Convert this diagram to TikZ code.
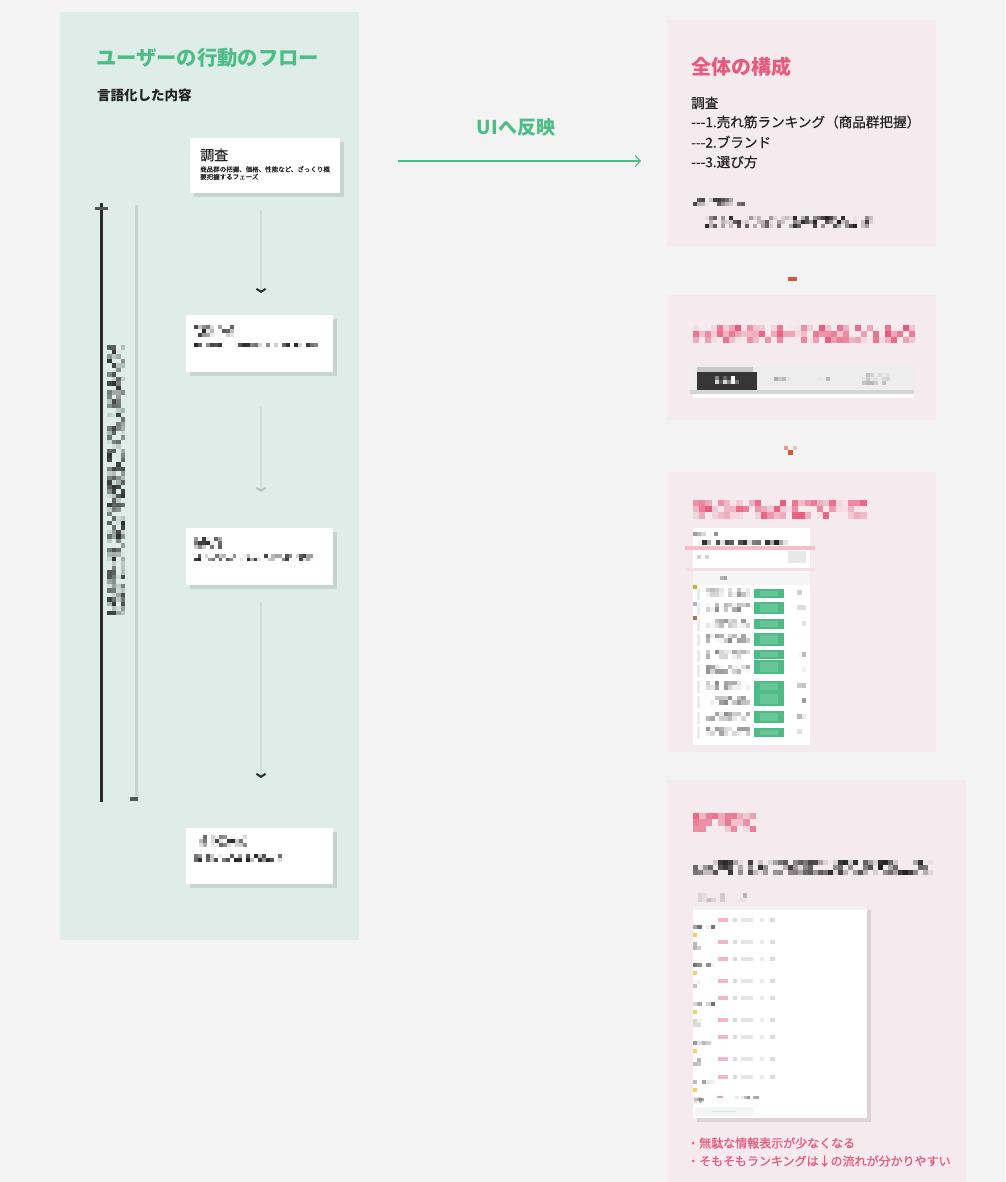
\documentclass[tikz,border=0pt]{standalone}
\usepackage{fontspec}
\setmainfont{Noto Sans CJK JP}
\newfontfamily\jpmed[FakeBold=0.6]{Noto Sans CJK JP}
\usetikzlibrary{arrows.meta,shadows,calc}
\definecolor{bgc}{HTML}{F3F3F3}
\definecolor{greenpanel}{HTML}{DEEDE7}
\definecolor{pinkpanel}{HTML}{F5EAEE}
\definecolor{greentext}{HTML}{4DBD86}
\definecolor{pinktext}{HTML}{E85A7D}
\definecolor{cardshadow}{HTML}{C7D5CF}
\definecolor{flowline}{HTML}{D2DED9}
\definecolor{darkbar}{HTML}{2B2B2B}
\definecolor{darktext}{HTML}{222222}
\definecolor{orangemark}{HTML}{D8573B}
\definecolor{btngreen}{HTML}{4DBB85}
\definecolor{goldsq}{HTML}{D4A93C}
\definecolor{bluesq}{HTML}{A9B8C6}
\definecolor{brownsq}{HTML}{A6775A}
\definecolor{yellowsq}{HTML}{F3D060}
\definecolor{tableshadow}{HTML}{DDD3D7}
\newcommand\fsz[1]{\fontsize{#1pt}{#1pt}\selectfont}
\newcommand\dashes{\mbox{-}\mbox{-}\mbox{-}}
% pixelated (mosaic) block: x, y, cols, rows, cell, colour
\newcommand\mosaic[6]{%
  \foreach \ii in {1,...,#3}{\foreach \jj in {1,...,#4}{%
    \pgfmathsetmacro\oo{max(0,1.4*rnd-0.4)}%
    \fill[#6,opacity=\oo] ({#1+(\ii-1)*#5},{#2+(\jj-1)*#5}) rectangle ++(#5,#5);}}}
\begin{document}
\begin{tikzpicture}[x=1pt,y=-1pt,
  card/.style={fill=white,anchor=north west,inner sep=0,
    drop shadow={shadow xshift=4pt,shadow yshift=-4pt,fill=cardshadow,opacity=1}},
  txt/.style={anchor=west,inner sep=0},
  flow/.style={draw=flowline,line width=1.2pt},
  uiarrow/.style={draw=greentext,line width=1.2pt,-{Straight Barb[length=5pt,width=11pt,line width=1.2pt]}}]
\pgfmathsetseed{7}
\useasboundingbox (0,0) rectangle (1005,1182);
\fill[bgc] (0,0) rectangle (1005,1182);

% ---------- left panel ----------
\fill[greenpanel] (60,12) rectangle (359,940);
\node[txt,text=greentext,font=\fsz{20.3}\bfseries] (ltitle) at (96,58) {ユーザーの行動のフロー};
\node[txt,text=darktext,font=\fsz{13.5}\bfseries] (lsub) at (97,95) {言語化した内容};

\node[card,minimum width=150pt,minimum height=55pt] (b1) at (190,138) {};
\node[card,minimum width=147pt,minimum height=57pt] (b2) at (186,315) {};
\node[card,minimum width=147pt,minimum height=57pt] (b3) at (186,528) {};
\node[card,minimum width=147pt,minimum height=56pt] (b4) at (186,828) {};

\node[txt,text=darktext,font=\fsz{14}\jpmed] (b1t) at (200,155) {調査};
\node[txt,text=darktext,font=\fsz{6.5}\jpmed,align=left] (b1s) at (200,173)
  {商品群の把握、価格、性能など、ざっくり概\\[1pt]要把握するフェーズ};

\mosaic{194}{325}{10}{3}{4}{darktext}
\mosaic{194}{343}{31}{1}{4}{darktext}
\mosaic{194}{537}{7}{3}{4}{darktext}
\mosaic{194}{554}{34}{2}{3.5}{darktext}
\mosaic{199}{835}{12}{3}{4}{darktext}
\mosaic{194}{854}{22}{2}{4}{darktext}

\coordinate (axis) at (261,0);
\draw[flow,shorten <=17pt,shorten >=22pt,-{Straight Barb[length=3pt,width=9pt,line width=2pt,color=darkbar]}]
  (b1.south -| axis) -- (b2.north -| axis);
\draw[flow,shorten <=35pt,shorten >=36pt,-{Straight Barb[length=3pt,width=9pt,line width=2pt,color=black!25]}]
  (b2.south -| axis) -- (b3.north -| axis);
\draw[flow,shorten <=17pt,shorten >=50pt,-{Straight Barb[length=3pt,width=9pt,line width=2pt,color=darkbar]}]
  (b3.south -| axis) -- (b4.north -| axis);

% timeline bars
\coordinate (barT) at (101,203);
\coordinate (barB) at (101,802);
\draw[darkbar,line width=3pt] (barT) -- (barB);
\draw[darkbar!80,line width=3pt] (95,209) -- (108,209);
\coordinate (gbarT) at (136,205);
\coordinate (gbarB) at (136,800);
\draw[cardshadow,line width=3pt] (gbarT) -- (gbarB);
\fill[darkbar!80] (130,797) rectangle (138,801);
\mosaic{107}{345}{4}{60}{4.5}{darkbar}

% ---------- middle arrow ----------
\node[text=greentext,font=\fsz{19}\bfseries,inner sep=0] (ui) at (516,127) {UIへ反映};
\coordinate (uiL) at (398,161);
\coordinate (uiR) at (641,161);
\draw[uiarrow] (uiL) -- (uiR);

% ---------- right panel A ----------
\fill[pinkpanel] (667,20) rectangle (936,246);
\node[txt,text=pinktext,font=\fsz{20}\bfseries] (atitle) at (691,67) {全体の構成};
\node[txt,text=darktext,font=\fsz{13.6}\jpmed] (a1) at (691,103) {調査};
\node[txt,text=darktext,font=\fsz{13.6}\jpmed] (a2) at (691,122) {\dashes1.売れ筋ランキング（商品群把握）};
\node[txt,text=darktext,font=\fsz{13.6}\jpmed] (a3) at (691,142) {\dashes2.ブランド};
\node[txt,text=darktext,font=\fsz{13.6}\jpmed] (a4) at (691,162) {\dashes3.選び方};
\mosaic{693}{198}{13}{2}{4}{darktext}
\mosaic{705}{216}{42}{3}{4}{darktext}

\fill[orangemark] (788,277) rectangle (797,281);

% ---------- right panel B ----------
\fill[pinkpanel] (667,295) rectangle (936,420);
\mosaic{693}{325}{38}{3}{6}{pinktext}
\fill[black!7] (690,364) rectangle (914,390);
\fill[black!22] (697,367) rectangle (753,372);
\fill[darkbar!95] (697,372) rectangle (757,390);
\mosaic{715}{376}{6}{2}{4}{white}
\mosaic{770}{377}{5}{1}{4}{black!40}
\mosaic{814}{377}{4}{1}{4}{black!40}
\mosaic{862}{373}{7}{3}{4}{black!30}
\fill[black!17] (690,390) rectangle (914,394);
\fill[white] (693,394) rectangle (914,398);

\fill[orangemark!60] (784,446) rectangle (788,450);
\fill[orangemark] (788,450) rectangle (793,455);
\fill[orangemark!35] (793,446) rectangle (797,450);

% ---------- right panel C ----------
\fill[pinkpanel] (667,472) rectangle (936,752);
\mosaic{693}{500}{28}{3}{6.2}{pinktext}
\fill[white] (693,528) rectangle (810,745);
\mosaic{693}{532}{6}{1}{4.2}{black!60}
\mosaic{693}{540}{22}{1}{4.5}{darktext}
\fill[pinktext!40] (685,546) rectangle (815,550);
\mosaic{697}{555}{4}{1}{4}{black!50}
\fill[black!9] (788,551) rectangle (806,563);
\fill[pinktext!22] (685,568) rectangle (815,571);
\fill[black!4] (693,573) rectangle (810,585);
\mosaic{720}{576}{3}{1}{3.5}{black!40}
\foreach \ya/\hh in {589/9,602/12,619/10,633/13,650/9,660/14,681/11,692/14,711/12,728/9}{
  \fill[btngreen] (754,\ya) rectangle (784,\ya+\hh);
  \fill[white,opacity=0.15] (760,\ya+2) rectangle (778,\ya+\hh-2);}
\foreach \yr in {588,603,619,634,650,665,681,696,712,727}{
  \mosaic{706}{\yr}{10}{2}{4.4}{black!45}
  \fill[black!8] (697,\yr) rectangle (700,\yr+12);
  \mosaic{797}{\yr+2}{2}{1}{4.5}{black!40}}
\fill[goldsq] (693,585) rectangle (697,589) ;
\fill[bluesq] (693,602) rectangle (697,606);
\fill[brownsq] (693,616) rectangle (697,620);

% ---------- right panel D ----------
\fill[pinkpanel] (667,780) rectangle (966,1182);
\mosaic{693}{813}{10}{3}{6.3}{pinktext}
\mosaic{693}{860}{48}{3}{5}{darktext}
\mosaic{693}{893}{12}{2}{4.5}{black!30}
\fill[tableshadow] (697,910) rectangle (871,1122);
\fill[white] (693,906) rectangle (867,1118);
\fill[black!5] (693,906) rectangle (867,910);
\foreach \yr in {920,942,959,981,998,1020,1037,1059,1077}{
  \fill[pinktext!45] (718,\yr-2) rectangle (728,\yr+2);
  \fill[black!14] (733,\yr-2) rectangle (737,\yr+2);
  \fill[black!10] (741,\yr-2) rectangle (753,\yr+2);
  \fill[black!8] (760,\yr-2) rectangle (764,\yr+2);
  \fill[black!14] (770,\yr-2) rectangle (775,\yr+2);}
\foreach \yr in {925,963,1002,1041,1080}{
  \mosaic{693}{\yr}{5}{1}{4.4}{black!55}
  \fill[yellowsq] (693,\yr+8) rectangle (697,\yr+12);
  \mosaic{693}{\yr+17}{2}{2}{4}{black!30}}
\fill[yellowsq] (695,1088) rectangle (697,1090);
\fill[pinktext!60] (717,1096) rectangle (723,1098);
\mosaic{735}{1096}{8}{1}{3}{black!40}
\mosaic{694}{1098}{4}{2}{2.5}{black!50}
\fill[black!4] (695,1107) rectangle (753,1116);
\fill[greentext!30] (712,1111) rectangle (736,1112);
\node[txt,text=pinktext,font=\fsz{12}\jpmed] (d1) at (687,1143) {・無駄な情報表示が少なくなる};
\node[txt,text=pinktext,font=\fsz{12}\jpmed] (d2) at (687,1161) {・そもそもランキングは↓の流れが分かりやすい};
\end{tikzpicture}
\end{document}
